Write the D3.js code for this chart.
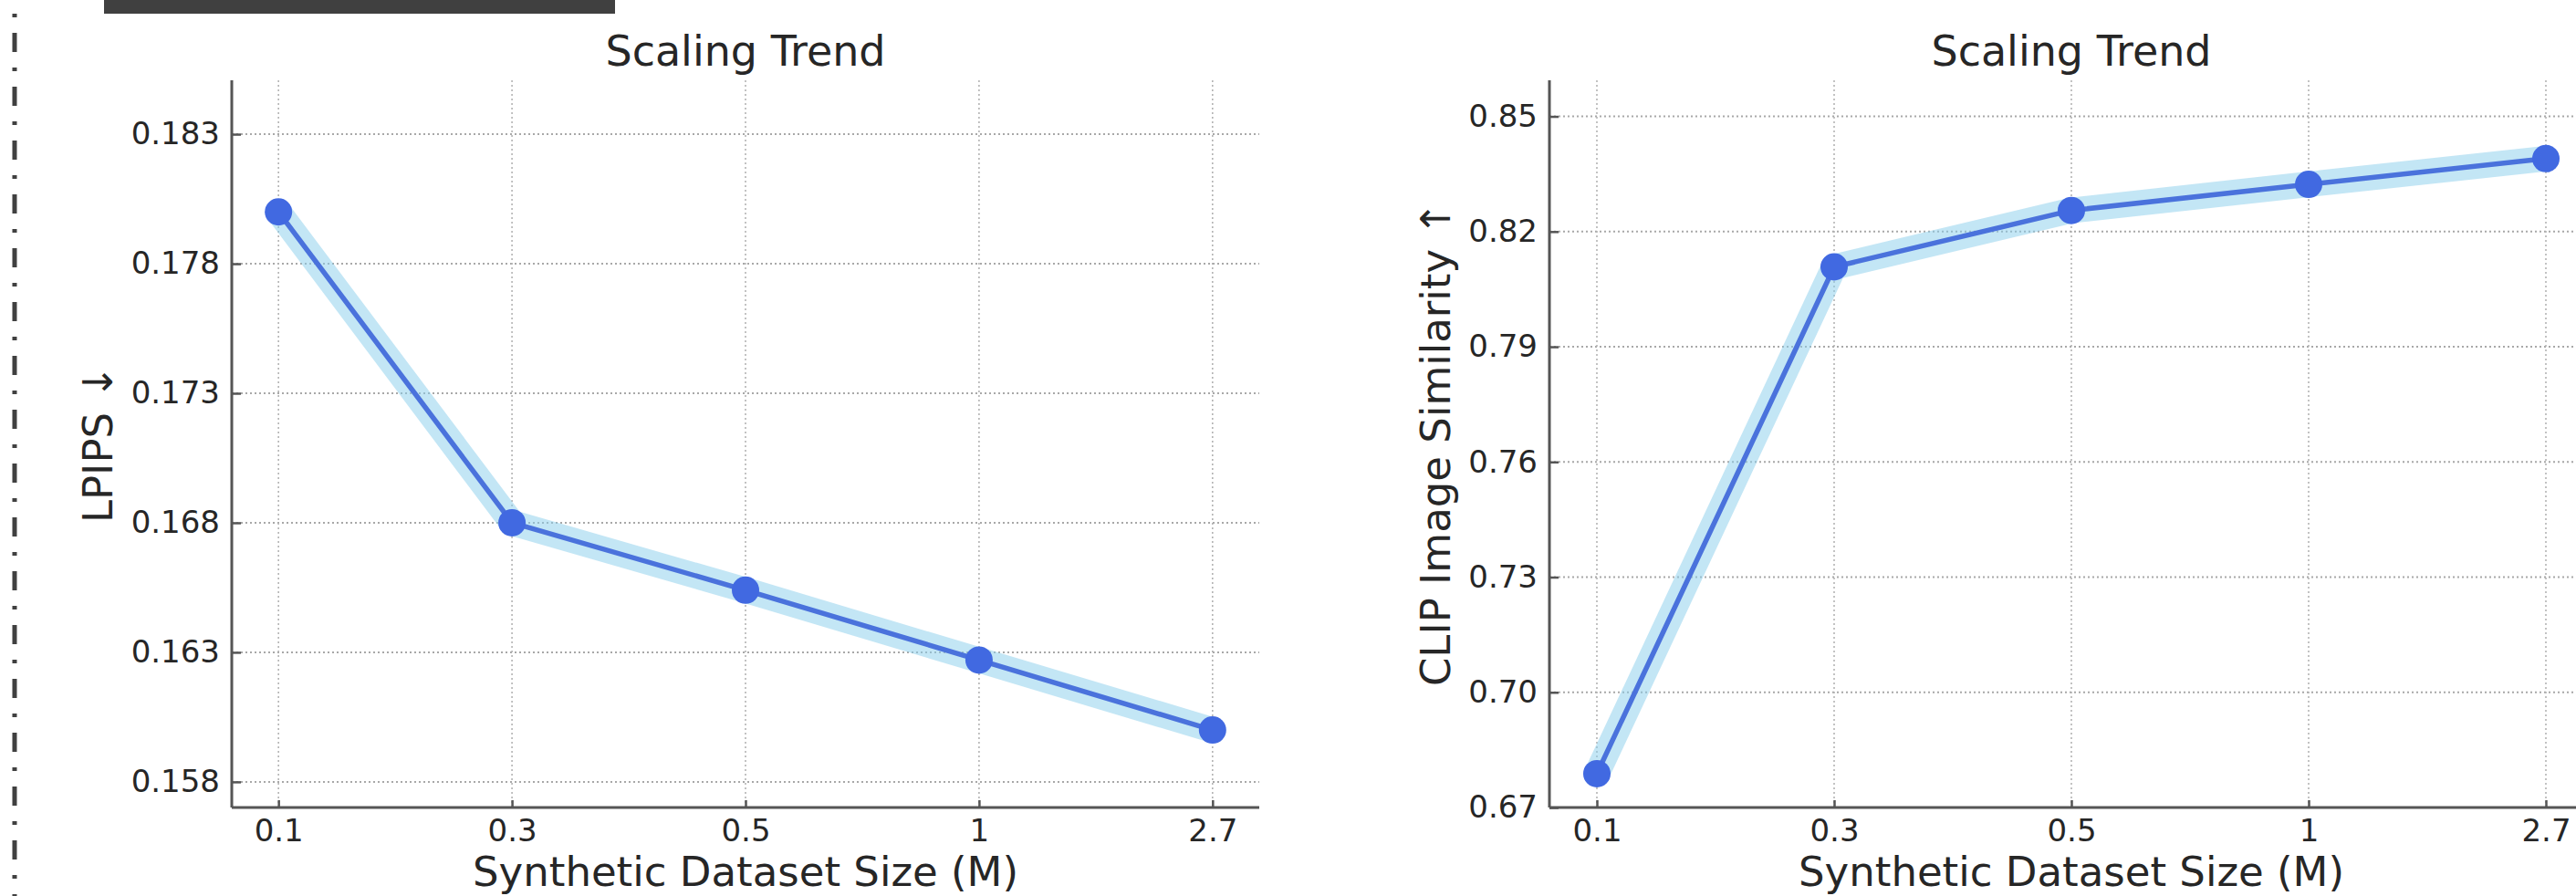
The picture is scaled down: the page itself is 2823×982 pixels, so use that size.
<!DOCTYPE html>
<html>
<head>
<meta charset="utf-8">
<script src="https://cdn.jsdelivr.net/npm/d3@7"></script>
<style>
    body { margin: 0; background: #fff; }
    svg { display: block; font-family: "DejaVu Sans", sans-serif; }
</style>
</head>
<body>
<svg id="chart"></svg>
<script>
// values
const sizes = ["0.1", "0.3", "0.5", "1", "2.7"];
const lpips = [0.1800, 0.1680, 0.1654, 0.1627, 0.1600];
const clipSim = [0.6788, 0.8108, 0.8255, 0.8323, 0.8390];
const lpipsTicks = [0.158, 0.163, 0.168, 0.173, 0.178, 0.183];
const clipTicks = [0.67, 0.70, 0.73, 0.76, 0.79, 0.82, 0.85];

const W = 2823, H = 982;

class TrendPanel {
    constructor(svg, opts) {
        this.svg = svg;
        this.opts = opts;
    }

    draw() {
        const o = this.opts;
        const g = this.svg.append("g");

        const x = d3.scalePoint().domain(sizes).range([o.left, o.right]).padding(0.2);
        const y = d3.scaleLinear().domain(o.domain).range([o.bottom, o.top]);

        // grid
        g.append("g").selectAll("line")
            .data(o.ticks)
            .join("line")
            .attr("x1", o.left).attr("x2", o.right)
            .attr("y1", d => y(d)).attr("y2", d => y(d))
            .attr("stroke", "#a8a8a8").attr("stroke-width", 2)
            .attr("stroke-dasharray", "2,3");
        g.append("g").selectAll("line")
            .data(sizes)
            .join("line")
            .attr("x1", d => x(d)).attr("x2", d => x(d))
            .attr("y1", o.top).attr("y2", o.bottom)
            .attr("stroke", "#b4b4b4").attr("stroke-width", 1.6)
            .attr("stroke-dasharray", "2,3");

        const pts = sizes.map((s, i) => [x(s), y(o.values[i])]);
        const line = d3.line();

        // light band behind the line
        g.append("path")
            .attr("d", line(pts))
            .attr("fill", "none")
            .attr("stroke", "rgb(135,206,235)")
            .attr("stroke-opacity", 0.5)
            .attr("stroke-width", 28)
            .attr("stroke-linejoin", "round")
            .attr("stroke-linecap", "round");

        g.append("path")
            .attr("d", line(pts))
            .attr("fill", "none")
            .attr("stroke", "#4a72dc")
            .attr("stroke-width", 5.5)
            .attr("stroke-linejoin", "round");

        g.append("g").selectAll("circle")
            .data(pts)
            .join("circle")
            .attr("cx", d => d[0]).attr("cy", d => d[1])
            .attr("r", 15)
            .attr("fill", "#4169e1");

        // axes, ticks pointing inward
        const xAxis = g.append("g")
            .attr("transform", `translate(0, ${o.bottom})`)
            .call(d3.axisBottom(x).tickSizeInner(-8).tickSizeOuter(0).tickPadding(13));
        const yAxis = g.append("g")
            .attr("transform", `translate(${o.left}, 0)`)
            .call(d3.axisLeft(y).tickValues(o.ticks).tickFormat(o.fmt)
                .tickSizeInner(-10).tickSizeOuter(0).tickPadding(13));

        [xAxis, yAxis].forEach(a => {
            a.select(".domain").attr("stroke", "#555").attr("stroke-width", 3);
            a.selectAll(".tick line").attr("stroke", "#555").attr("stroke-width", 2.5);
            a.selectAll(".tick text")
                .attr("fill", "#262626")
                .style("font-family", "DejaVu Sans")
                .style("font-size", "34px");
        });
        xAxis.select(".domain").attr("d", `M${o.left},0H${o.right}`);
        yAxis.select(".domain").attr("d", `M0,${o.top}V${o.bottom}`);

        g.append("text")
            .attr("x", (o.left + o.right) / 2).attr("y", 72)
            .attr("text-anchor", "middle")
            .attr("fill", "#262626")
            .style("font-size", "46px")
            .text("Scaling Trend");

        g.append("text")
            .attr("x", (o.left + o.right) / 2).attr("y", 971)
            .attr("text-anchor", "middle")
            .attr("fill", "#262626")
            .style("font-size", "45px")
            .text("Synthetic Dataset Size (M)");

        g.append("text")
            .attr("transform", `translate(${o.labelX}, ${(o.top + o.bottom) / 2}) rotate(-90)`)
            .attr("text-anchor", "middle")
            .attr("fill", "#262626")
            .style("font-size", "45px")
            .text(o.label);
    }
}

const svg = d3.select("#chart").attr("width", W).attr("height", H);

// dash-dot border on the far left and the dark bar at the top
svg.append("line")
    .attr("x1", 16).attr("x2", 16).attr("y1", -44).attr("y2", H)
    .attr("stroke", "#404040").attr("stroke-width", 5)
    .attr("stroke-dasharray", "4,17,21,17");
svg.append("rect")
    .attr("x", 114).attr("y", 0).attr("width", 560).attr("height", 15)
    .attr("fill", "#404040");

new TrendPanel(svg, {
    left: 254, right: 1380, top: 88, bottom: 885,
    domain: [0.15701, 0.18508], ticks: lpipsTicks, fmt: d3.format(".3f"),
    values: lpips, label: "LPIPS ↓", labelX: 123
}).draw();

new TrendPanel(svg, {
    left: 1698, right: 2842, top: 88, bottom: 885,
    domain: [0.67, 0.8594], ticks: clipTicks, fmt: d3.format(".2f"),
    values: clipSim, label: "CLIP Image Similarity ↑", labelX: 1589
}).draw();
</script>
</body>
</html>
